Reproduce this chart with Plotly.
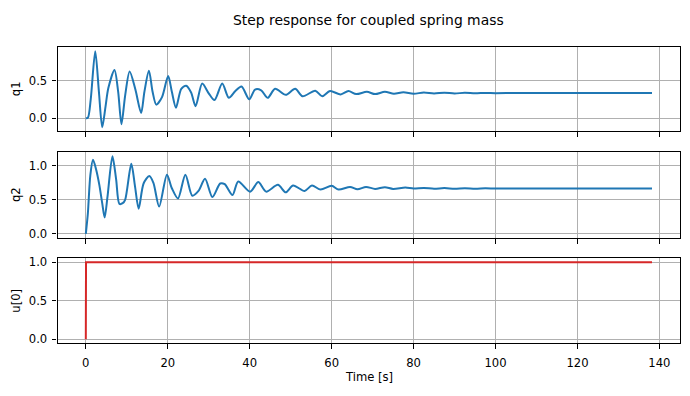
import plotly.graph_objects as go

# ---- data ----
t_q1 = [0.0, 0.5, 1.2, 2.3, 3.2, 4.0, 4.8, 5.5, 7.0, 7.9, 8.7, 9.6, 10.7, 12.1, 13.5, 14.3,
        15.4, 16.3, 17.2, 18.6, 20.1, 21.0, 22.0, 23.3, 24.5, 25.7, 26.8, 28.4, 30.0, 31.4,
        33.3, 34.9, 36.5, 38.0, 39.9, 41.3, 42.8, 44.4, 46.2, 48.8, 51.1, 52.9, 56.0, 57.7,
        59.6, 62.2, 64.1, 66.0, 68.6, 70.6, 73.0, 75.2, 77.5, 80.0, 82.5, 85.0, 87.5, 90.0,
        92.5, 95.0, 97.5, 100.0, 105.0, 110.0, 120.0, 130.0, 138.2]
q1 = [0.0, 0.005, 0.25, 0.89, 0.35, -0.12, 0.15, 0.40, 0.64, 0.35, -0.08, 0.30, 0.62, 0.38,
      0.07, 0.35, 0.63, 0.35, 0.18, 0.28, 0.56, 0.35, 0.14, 0.39, 0.43, 0.34, 0.16, 0.46,
      0.33, 0.24, 0.46, 0.27, 0.36, 0.42, 0.25, 0.38, 0.37, 0.27, 0.39, 0.31, 0.39, 0.29,
      0.365, 0.29, 0.36, 0.315, 0.36, 0.32, 0.35, 0.32, 0.35, 0.325, 0.345, 0.325, 0.34,
      0.327, 0.339, 0.328, 0.337, 0.330, 0.335, 0.332, 0.334, 0.333, 0.333, 0.333, 0.333]

t_q2 = [0.0, 0.5, 1.1, 1.75, 2.5, 3.3, 4.0, 4.6, 5.3, 6.5, 7.4, 8.2, 9.0, 9.6, 11.1, 12.0,
        12.9, 14.1, 15.5, 16.5, 17.9, 19.8, 21.0, 22.5, 24.3, 26.0, 27.5, 29.1, 30.9, 32.8,
        33.9, 35.8, 37.2, 40.1, 42.1, 44.0, 46.9, 48.8, 50.6, 53.4, 55.2, 57.3, 60.0, 61.7,
        64.5, 66.3, 68.4, 70.6, 73.0, 75.0, 78.0, 80.0, 82.5, 85.0, 87.5, 90.0, 92.5, 95.0,
        97.5, 100.0, 105.0, 110.0, 120.0, 130.0, 138.2]
q2 = [0.0, 0.30, 0.86, 1.09, 0.95, 0.72, 0.45, 0.24, 0.55, 1.14, 0.80, 0.44, 0.45, 0.50,
      1.03, 0.70, 0.37, 0.74, 0.85, 0.75, 0.40, 0.87, 0.67, 0.52, 0.87, 0.56, 0.63, 0.81,
      0.54, 0.74, 0.73, 0.57, 0.77, 0.62, 0.76, 0.62, 0.72, 0.61, 0.71, 0.63, 0.71, 0.65,
      0.705, 0.65, 0.69, 0.655, 0.69, 0.66, 0.685, 0.66, 0.68, 0.665, 0.675, 0.662, 0.673,
      0.663, 0.671, 0.664, 0.669, 0.666, 0.667, 0.667, 0.667, 0.667, 0.667]

t_u = [0.0, 0.05, 138.2]
u0 = [0.0, 1.0, 1.0]

x_ticks = [0, 20, 40, 60, 80, 100, 120, 140]
y_ticks_q1 = [0.0, 0.5]
y_ticks_q2 = [0.0, 0.5, 1.0]
y_ticks_u = [0.0, 0.5, 1.0]

W, H = 690, 396
BLUE = "#1f77b4"
RED = "#d62728"
FONT = "DejaVu Sans"
FS = 11.6
LW = 2.0

fig = go.Figure()
fig.add_trace(go.Scatter(x=t_q1, y=q1, mode="lines", line=dict(color=BLUE, width=LW, shape="spline", smoothing=0.8),
                         xaxis="x", yaxis="y", showlegend=False))
fig.add_trace(go.Scatter(x=t_q2, y=q2, mode="lines", line=dict(color=BLUE, width=LW, shape="spline", smoothing=0.8),
                         xaxis="x2", yaxis="y2", showlegend=False))
fig.add_trace(go.Scatter(x=t_u, y=u0, mode="lines", line=dict(color=RED, width=LW),
                         xaxis="x3", yaxis="y3", showlegend=False))

xdom = [57.5 / W, 680.3 / W]
def ydom(top, bottom):
    return [1 - bottom / H, 1 - top / H]

common_x = dict(range=[-6.91, 145.1], tickvals=x_ticks, ticks="outside", ticklen=4.9, tickwidth=1.1,
                tickcolor="black", showline=True, linecolor="black", linewidth=1.1, mirror=True,
                showgrid=True, gridcolor="#b0b0b0", gridwidth=1.1, zeroline=False, domain=xdom,
                ticklabelstandoff=4,
                tickfont=dict(family=FONT, size=FS, color="black"))
common_y = dict(ticks="outside", ticklen=4.9, tickwidth=1.1, tickcolor="black", showline=True,
                linecolor="black", linewidth=1.1, mirror=True, showgrid=True, gridcolor="#b0b0b0",
                gridwidth=1.1, zeroline=False, tickformat=".1f", ticklabelstandoff=2,
                tickfont=dict(family=FONT, size=FS, color="black"))

fig.update_layout(
    width=W, height=H, margin=dict(l=0, r=0, t=0, b=0),
    paper_bgcolor="white", plot_bgcolor="white",
    font=dict(family=FONT, size=FS, color="black"),
    xaxis=dict(common_x, anchor="y", showticklabels=False),
    xaxis2=dict(common_x, anchor="y2", showticklabels=False),
    xaxis3=dict(common_x, anchor="y3", showticklabels=True),
    yaxis=dict(common_y, domain=ydom(45, 130), range=[-0.1705, 0.9405], tickvals=y_ticks_q1, anchor="x"),
    yaxis2=dict(common_y, domain=ydom(151.7, 238.3), range=[-0.057, 1.197], tickvals=y_ticks_q2, anchor="x2"),
    yaxis3=dict(common_y, domain=ydom(259.3, 345.3), range=[-0.05, 1.05], tickvals=y_ticks_u, anchor="x3"),
)

ann = [
    dict(text="Step response for coupled spring mass", x=368.5 / W, y=1 - 17 / H, size=13.9, angle=0),
    dict(text="q1", x=16 / W, y=1 - 87.5 / H, size=FS, angle=-90),
    dict(text="q2", x=16 / W, y=1 - 195 / H, size=FS, angle=-90),
    dict(text="u[0]", x=16 / W, y=1 - 302.3 / H, size=FS, angle=-90),
    dict(text="Time [s]", x=368.9 / W, y=1 - 380 / H, size=FS, angle=0),
]
for a in ann:
    fig.add_annotation(text=a["text"], x=a["x"], y=a["y"], xref="paper", yref="paper",
                       xanchor="center", yanchor="middle", showarrow=False, textangle=a["angle"],
                       font=dict(family=FONT, size=a["size"], color="black"))

fig.write_html("out.html", config={"displayModeBar": False},
               post_script="document.body.style.margin='0';document.body.style.overflow='hidden';")
